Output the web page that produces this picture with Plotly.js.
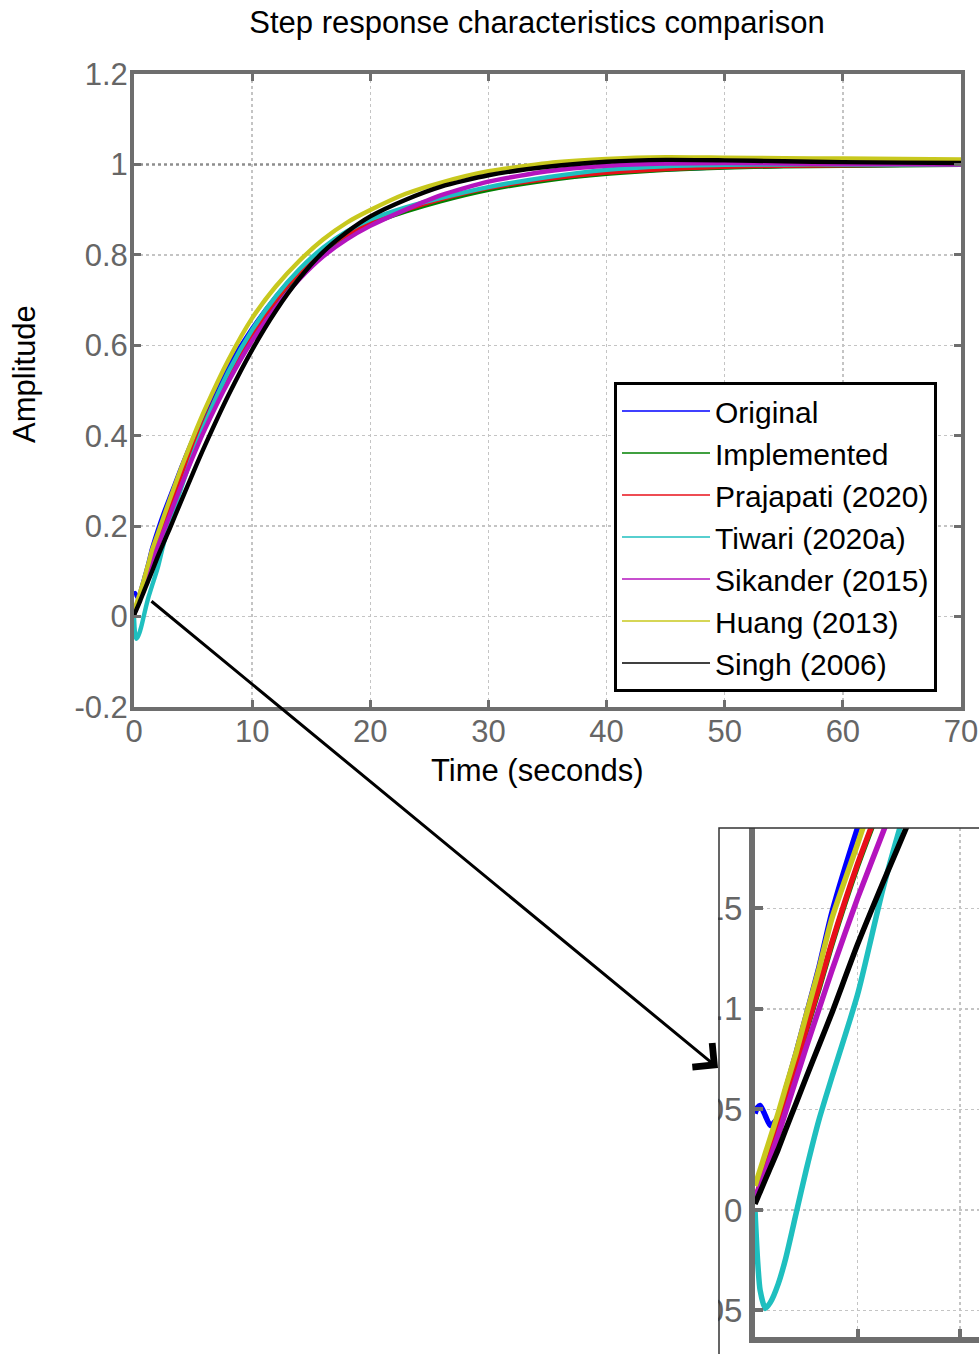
<!DOCTYPE html>
<html><head><meta charset="utf-8">
<script src="https://cdn.plot.ly/plotly-3.0.1.min.js"></script>
<style>html,body{margin:0;padding:0;overflow:hidden;background:#fff;width:979px;height:1354px}#chart{width:1100px;height:1420px}</style>
</head><body><div id="chart"></div>
<script>
// ---- data ----
const time = [0, 0.05, 0.1, 0.2, 0.3, 0.45, 0.6, 0.8, 1, 1.25, 1.5, 2, 2.5, 3, 4, 5, 6, 8, 10, 12, 14, 16, 18, 20, 23, 26, 30, 35, 40, 45, 50, 55, 60, 65, 70];
const original   = [0.048, 0.051, 0.052, 0.047, 0.042, 0.046, 0.06, 0.078, 0.097, 0.121, 0.148, 0.19, 0.228, 0.262, 0.33, 0.393, 0.45, 0.553, 0.637, 0.707, 0.765, 0.81, 0.845, 0.871, 0.898, 0.921, 0.946, 0.967, 0.981, 0.989, 0.994, 0.997, 0.998, 0.999, 0.999];
const implemented= [0.004, 0.008, 0.012, 0.019, 0.027, 0.04, 0.053, 0.071, 0.089, 0.11, 0.132, 0.171, 0.205, 0.238, 0.306, 0.37, 0.43, 0.536, 0.623, 0.697, 0.759, 0.806, 0.841, 0.868, 0.896, 0.919, 0.944, 0.965, 0.979, 0.988, 0.993, 0.996, 0.997, 0.998, 0.999];
const prajapati  = [0.005, 0.009, 0.013, 0.02, 0.028, 0.041, 0.054, 0.072, 0.09, 0.111, 0.133, 0.172, 0.206, 0.24, 0.308, 0.372, 0.432, 0.538, 0.625, 0.70, 0.762, 0.81, 0.845, 0.872, 0.90, 0.923, 0.948, 0.968, 0.982, 0.99, 0.995, 0.997, 0.998, 0.999, 1.0];
const tiwari     = [0, -0.025, -0.04, -0.049, -0.046, -0.037, -0.024, -0.002, 0.02, 0.045, 0.066, 0.107, 0.16, 0.205, 0.285, 0.359, 0.426, 0.542, 0.634, 0.708, 0.768, 0.816, 0.852, 0.878, 0.905, 0.926, 0.95, 0.972, 0.988, 0.996, 0.999, 1.0, 1.0, 1.0, 1.0];
const sikander   = [0.006, 0.009, 0.012, 0.019, 0.026, 0.037, 0.049, 0.065, 0.081, 0.1, 0.119, 0.155, 0.188, 0.222, 0.29, 0.354, 0.414, 0.52, 0.61, 0.684, 0.746, 0.796, 0.834, 0.864, 0.90, 0.932, 0.962, 0.985, 0.997, 1.002, 1.003, 1.002, 1.001, 1.001, 1.0];
const huang      = [0.012, 0.016, 0.02, 0.028, 0.036, 0.048, 0.061, 0.078, 0.097, 0.12, 0.145, 0.182, 0.22, 0.257, 0.329, 0.396, 0.458, 0.568, 0.66, 0.73, 0.787, 0.834, 0.871, 0.899, 0.935, 0.96, 0.985, 1.003, 1.012, 1.016, 1.015, 1.014, 1.013, 1.012, 1.011];
const singh      = [0.003, 0.006, 0.009, 0.015, 0.021, 0.03, 0.04, 0.053, 0.066, 0.082, 0.098, 0.132, 0.163, 0.193, 0.256, 0.318, 0.378, 0.49, 0.59, 0.676, 0.748, 0.806, 0.85, 0.885, 0.922, 0.951, 0.976, 0.995, 1.006, 1.01, 1.009, 1.007, 1.005, 1.004, 1.003];
const seriesNames = ['Original', 'Implemented', 'Prajapati (2020)', 'Tiwari (2020a)', 'Sikander (2015)', 'Huang (2013)', 'Singh (2006)'];
const steadyState = 1;
const xTickVals = [0, 10, 20, 30, 40, 50, 60, 70];
const yTickVals = [-0.2, 0, 0.2, 0.4, 0.6, 0.8, 1, 1.2];
const yTickText = ['-0.2', '0', '0.2', '0.4', '0.6', '0.8', '1', '1.2'];
const insetXTickVals = [2, 4];
const insetYTickVals = [-0.05, 0, 0.05, 0.1, 0.15];
const insetYTickText = ['-0.05', '0', '0.05', '0.1', '0.15'];

// ---- styling ----
const W = 1100, H = 1420;
const px = v => v / W, py = v => 1 - v / H;
const FONT = 'Liberation Sans, Arial, sans-serif';
const colors = ['#0000ff', '#008000', '#e8101a', '#1fbfbf', '#b414be', '#c8c81e', '#000000'];
const series = [original, implemented, prajapati, tiwari, sikander, huang, singh];
const AX = '#6e6e6e';

const traces = [];
// legend entries (thin lines, hidden under the thick ones)
series.forEach((s, i) => traces.push({x: time, y: s, type: 'scatter', mode: 'lines', name: seriesNames[i],
  line: {color: colors[i], width: 1.5, shape: 'spline', smoothing: 0.6}, xaxis: 'x', yaxis: 'y', hoverinfo: 'skip'}));
// steady-state reference line
traces.push({x: [time[0], time[time.length - 1]], y: [steadyState, steadyState], type: 'scatter', mode: 'lines',
  line: {color: '#8e8e8e', width: 2.5, dash: 'dot'}, showlegend: false, xaxis: 'x', yaxis: 'y'});
// main curves
series.forEach((s, i) => traces.push({x: time, y: s, type: 'scatter', mode: 'lines', name: seriesNames[i], showlegend: false,
  line: {color: colors[i], width: 4.4, shape: 'spline', smoothing: 0.6}, xaxis: 'x', yaxis: 'y'}));
// inset curves
series.forEach((s, i) => traces.push({x: time, y: s, type: 'scatter', mode: 'lines', name: seriesNames[i], showlegend: false,
  line: {color: colors[i], width: 5.5, shape: 'spline', smoothing: 0.6}, xaxis: 'x2', yaxis: 'y2'}));

const baseAxis = {
  ticks: 'inside', tickcolor: AX, tickwidth: 3, ticklen: 7,
  showline: true, linecolor: AX, linewidth: 4,
  showgrid: true, gridcolor: '#c4c4c4', gridwidth: 1.5, griddash: 'dot',
  zeroline: false, tickfont: {family: FONT, size: 31, color: '#666666'}
};

const layout = {
  width: W, height: H, autosize: false,
  margin: {l: 0, r: 0, t: 0, b: 0},
  paper_bgcolor: '#ffffff', plot_bgcolor: '#ffffff',
  font: {family: FONT, color: '#000'},
  title: {text: 'Step response characteristics comparison', font: {family: FONT, size: 31, color: '#000'},
    x: px(537), xref: 'paper', xanchor: 'center', y: py(22), yref: 'paper', yanchor: 'middle'},
  xaxis: Object.assign({}, baseAxis, {domain: [px(134), px(961)], range: [0, 70], tickvals: xTickVals, anchor: 'y', mirror: 'ticks',
    ticklabelstandoff: -6}),
  yaxis: Object.assign({}, baseAxis, {domain: [py(707), py(74)], range: [-0.2, 1.2], tickvals: yTickVals, ticktext: yTickText,
    anchor: 'x', mirror: 'ticks', ticklabelstandoff: -4}),
  xaxis2: Object.assign({}, baseAxis, {domain: [px(755), 1], range: [0, (W - 755) / 51.25], tickvals: insetXTickVals,
    anchor: 'y2', linewidth: 6, tickwidth: 4, ticklen: 8, tickfont: {family: FONT, size: 33, color: '#666666'}}),
  yaxis2: Object.assign({}, baseAxis, {domain: [py(1337), py(828)], range: [-0.0632, 0.19], tickvals: insetYTickVals,
    ticktext: insetYTickText, anchor: 'x2', linewidth: 6, tickwidth: 4, ticklen: 8, ticklabelstandoff: 0,
    tickfont: {family: FONT, size: 33, color: '#666666'}}),
  showlegend: true,
  legend: {x: px(614), y: py(382), xanchor: 'left', yanchor: 'top', bgcolor: '#ffffff', bordercolor: '#000000', borderwidth: 3,
    font: {family: FONT, size: 30, color: '#000'}, itemwidth: 88, tracegroupgap: 0},
  shapes: [
    {type: 'rect', xref: 'paper', yref: 'paper', x0: 0, x1: px(718), y0: py(H), y1: py(850), fillcolor: '#ffffff', line: {width: 0}, layer: 'above'},
    {type: 'rect', xref: 'paper', yref: 'paper', x0: px(719), x1: px(1300), y0: py(1500), y1: py(828), fillcolor: 'rgba(0,0,0,0)', line: {color: '#333333', width: 1.5}, layer: 'above'}
  ],
  annotations: [
    {xref: 'paper', yref: 'paper', x: px(537), y: py(770), xanchor: 'center', yanchor: 'middle', showarrow: false,
      text: 'Time (seconds)', font: {family: FONT, size: 31, color: '#000'}},
    {xref: 'paper', yref: 'paper', x: px(24), y: py(374), xanchor: 'center', yanchor: 'middle', showarrow: false, textangle: -90,
      text: 'Amplitude', font: {family: FONT, size: 31, color: '#000'}},
    {xref: 'paper', yref: 'paper', x: px(718), y: py(1068), axref: 'pixel', ayref: 'pixel', ax: 150 - 718, ay: 600 - 1068,
      text: '', showarrow: true, arrowhead: 4, arrowsize: 2, arrowwidth: 3, arrowcolor: '#000000'}
  ]
};

Plotly.newPlot('chart', traces, layout, {displayModeBar: false, staticPlot: true});
</script>
</body></html>
